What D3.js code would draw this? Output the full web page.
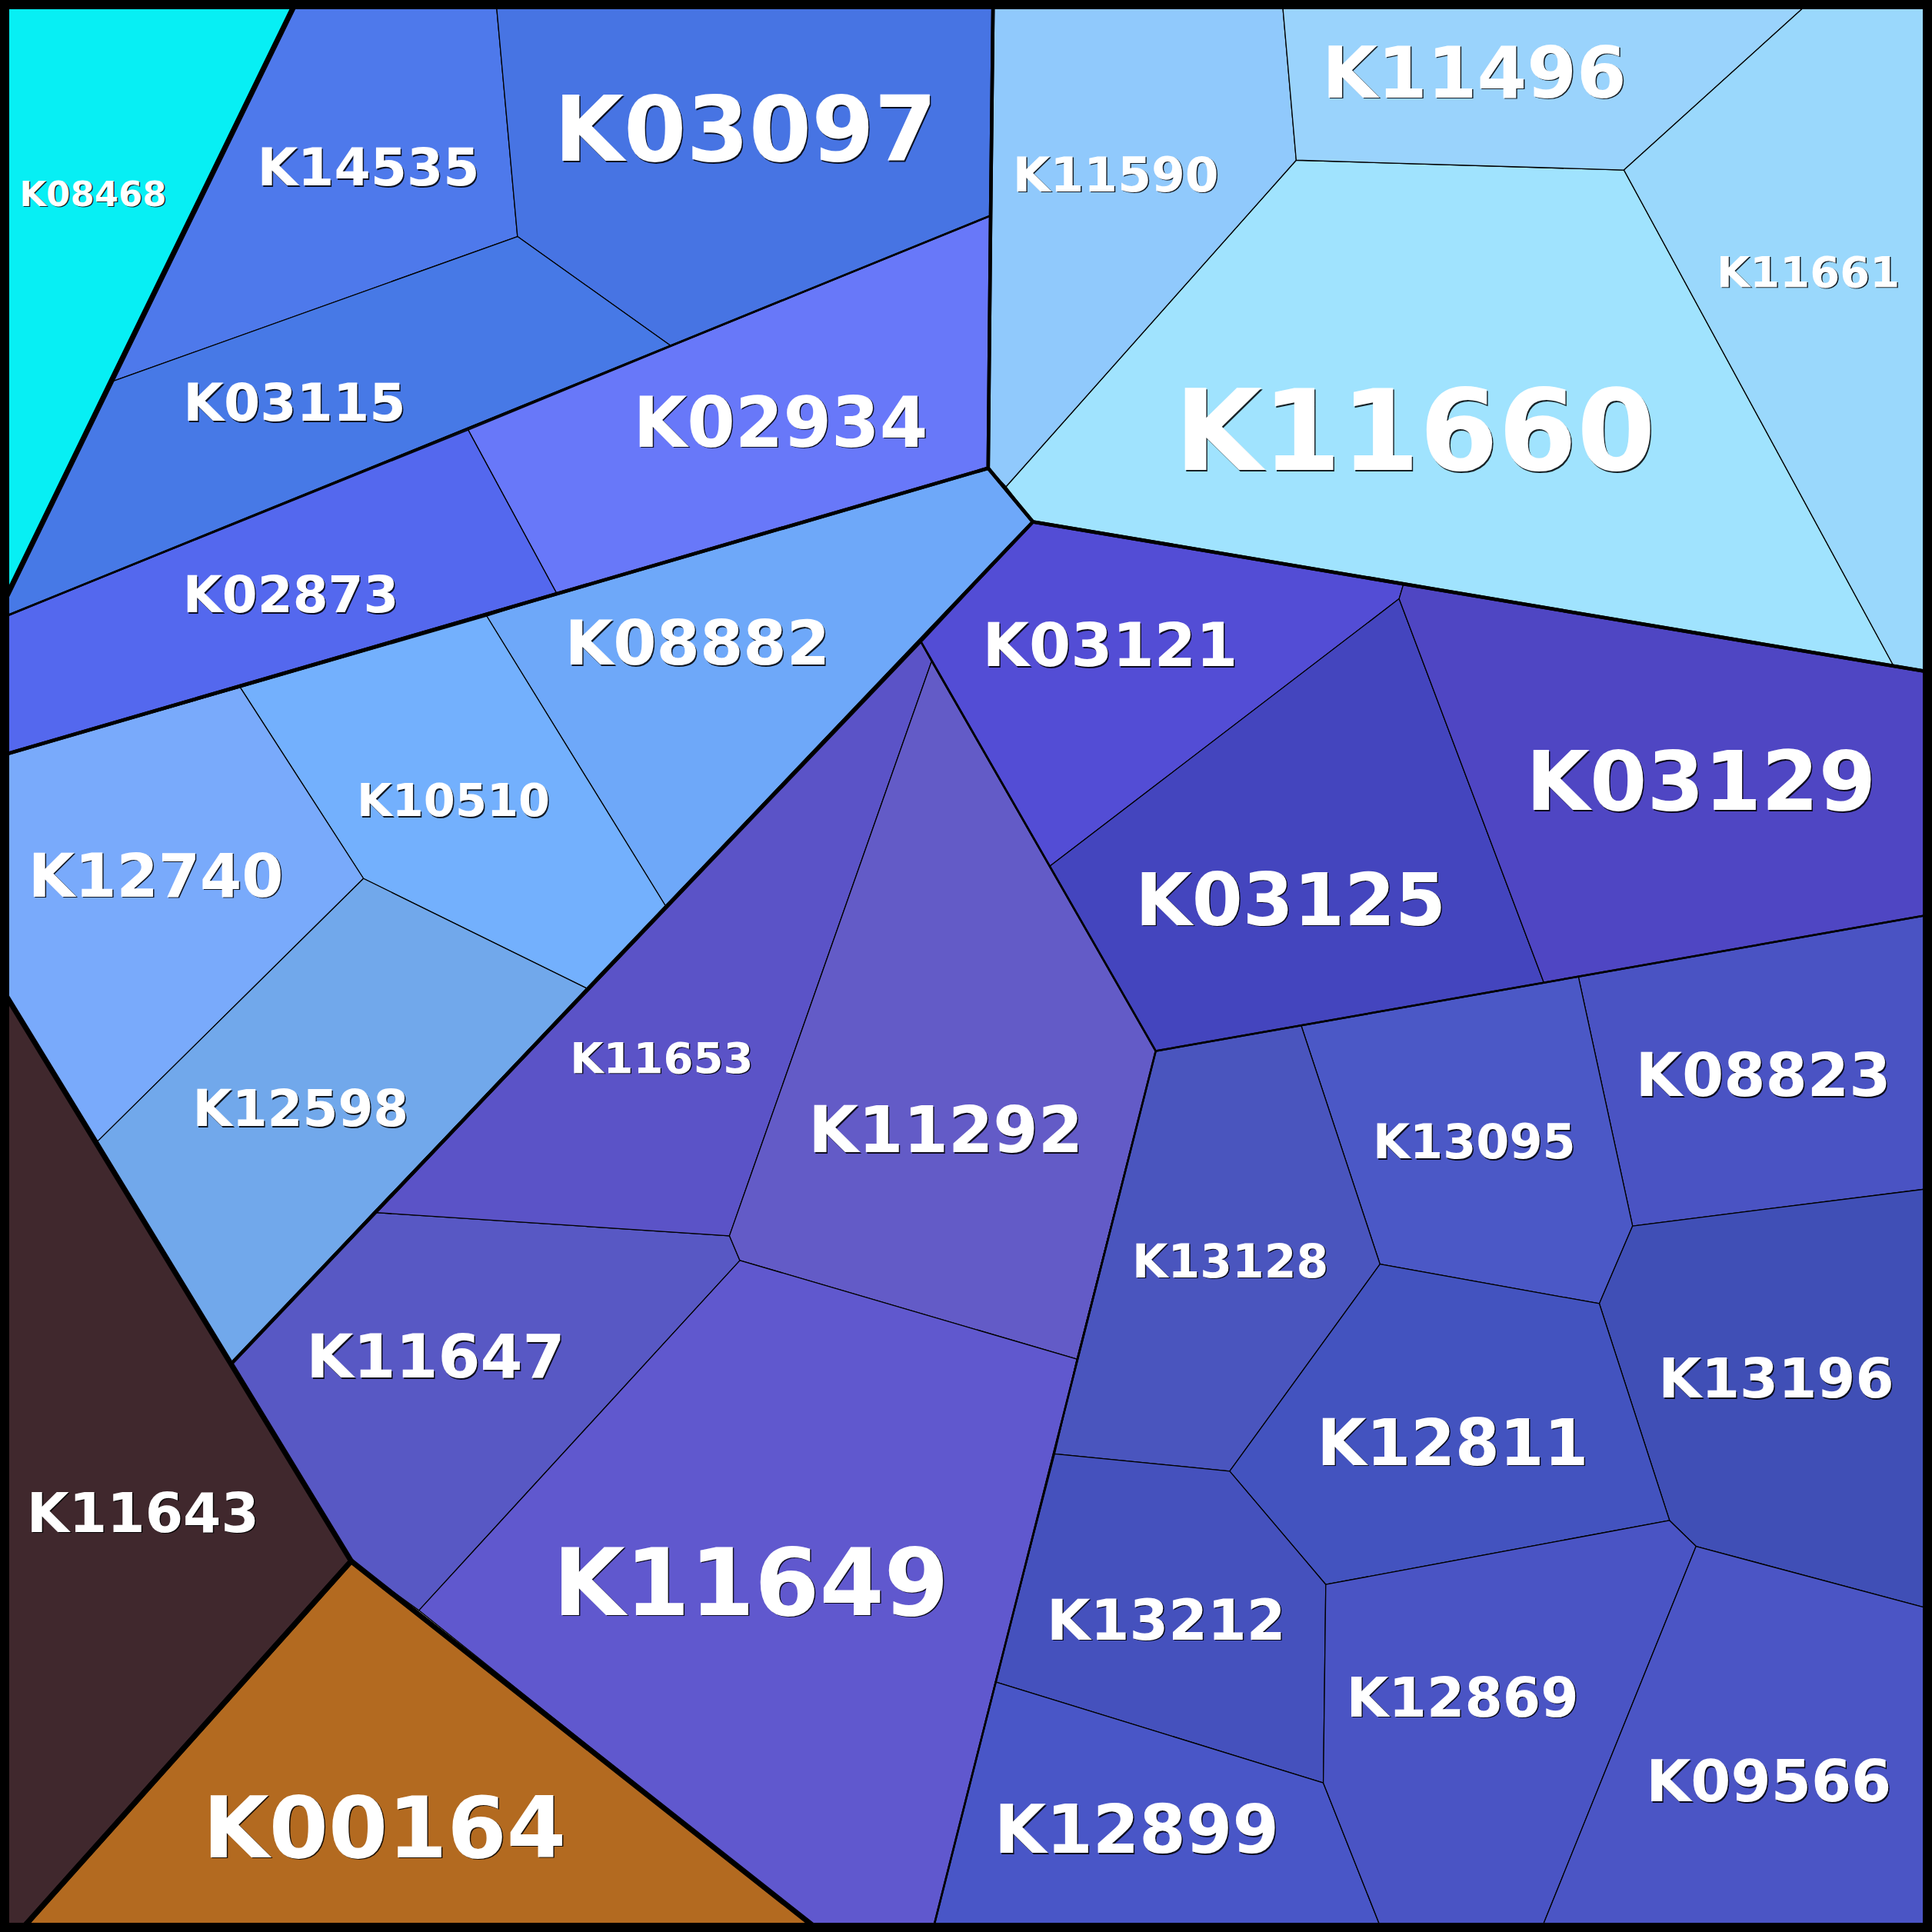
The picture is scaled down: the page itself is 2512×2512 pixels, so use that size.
<!DOCTYPE html>
<html>
<head>
<meta charset="utf-8">
<script src="https://cdn.jsdelivr.net/npm/d3@7"></script>
<style>
  body { margin: 0; background: #fff; }
  text { font-family: "DejaVu Sans", sans-serif; font-weight: bold; }
</style>
</head>
<body>
<script>
var w = 2512;
var h = 2512;

// cell names, label weights and fill colours
var names = ["K08468", "K14535", "K03097", "K03115", "K02934", "K02873", "K08882", "K10510",
    "K12740", "K12598", "K11643", "K00164", "K11647", "K11653", "K11292", "K11649",
    "K03121", "K03125", "K03129", "K11660", "K11590", "K11496", "K11661", "K08823",
    "K13095", "K13128", "K13196", "K12811", "K13212", "K12899", "K12869", "K09566"];

var weights = [45, 68, 117, 68, 90, 66, 81, 59,
    78, 66, 71, 111, 79, 56, 84, 121,
    78, 95, 107, 147, 63, 93, 56, 78,
    62, 60, 72, 83, 73, 87, 71, 75];

var colors = ["#07EFF4", "#4E79EB", "#4774E3", "#4779E6", "#6878F9", "#5468EE", "#6EA8F9", "#73B0FD",
    "#79AAFB", "#71A8EB", "#40282D", "#B36A20", "#5858C4", "#5B53C7", "#635BC7", "#6058CE",
    "#534DD5", "#4445BE", "#4F46C3", "#A0E3FE", "#90C9FC", "#9AD3FC", "#9AD8FC", "#4A53C3",
    "#4B58C6", "#4A55BE", "#404FB6", "#4353BF", "#4551BD", "#4956C7", "#4A54C4", "#4B55C5"];

// voronoi sites (label anchors), in map units 0..1568
var sites = [[75.5, 157], [299, 135], [605, 104], [239, 326], [633.5, 342], [236, 482], [566, 521], [368, 649],
    [126.5, 710], [244, 899], [116, 1227], [312, 1482], [353.5, 1100], [537, 858], [767.5, 916], [609.5, 1283],
    [901, 523], [1047.5, 729], [1380.5, 633], [1148.5, 348], [905.5, 141], [1196.5, 58], [1467.5, 220], [1431, 872],
    [1196.5, 926], [998.5, 1023], [1441.5, 1118], [1179, 1170], [946.5, 1314], [922.5, 1484], [1187, 1377], [1435.5, 1445]];

// cell corner points, in map units 0..1568
var corners = {
    c0: [0, 0], c1: [1568, 0], c2: [1568, 1568], c3: [0, 1568],
    t1: [241, 0], t2: [402.5, 0], t3: [806, 0], t4: [1040.6, 0], t5: [1470.5, 0],
    l1: [0, 495], l2: [0, 502], l3: [0, 613.5], l4: [0, 800],
    r1: [1568, 545.8], r2: [1568, 742], r3: [1568, 964.4], r4: [1568, 1306.3],
    b1: [15.5, 1568], b2: [666.3, 1568], b3: [756.7, 1568], b4: [1122, 1568], b5: [1250, 1568],
    a: [90, 310], b: [420, 192], c: [545, 281], d: [804, 175], e: [380, 349], f: [802, 380],
    g: [452, 482], h: [838.3, 423.5], i: [195, 558], j: [395, 500], k: [540, 735], m: [476, 802],
    n: [295, 713], o: [78, 927.5], p: [187.5, 1107], q: [303, 984], r: [285, 1267], s: [340, 1307],
    u: [592, 1003], v: [600.5, 1023], w: [747.5, 521], x: [756, 537], y: [938, 853], z: [874, 1103],
    A: [816.5, 395], B: [1052, 130], C: [1318, 138], D: [1537, 540.7], E: [1139, 474.3], F: [1135.5, 486],
    G: [852, 703], H: [1253, 797.5], I: [1281, 792.6], J: [1056, 832.2], K: [1325, 995], L: [1298, 1058],
    M: [1120, 1026], N: [998, 1194], O: [856, 1180], Q: [1355, 1234], R: [1376.5, 1255], S: [1076, 1286],
    T: [1074, 1447], U: [808, 1365]
};

// cell outlines as corner ids, same order as names
var cellRings = ["c0 t1 a l1", "t1 t2 b a", "t2 t3 d c b", "a b c e l2 l1", "c d f g e", "l2 e g j i l3",
    "g f h k j", "i j k m n", "l3 i n o l4", "o n m p", "l4 o p r b1 c3", "r b2 b1",
    "p q u v s r", "q w x u", "x y z v u", "v z O U b3 b2 s",
    "w h E F G", "G F H y", "E D r1 r2 I H F", "h A B C D", "t3 t4 B A f d", "t4 t5 C B",
    "t5 c1 r1 D C", "I r2 r3 K", "J I K L M", "y J M N O z", "K r3 r4 R Q L", "M L Q S N",
    "O N S T U", "U T b4 b3", "S Q R b5 b4 T", "R r4 c2 b5"];

// group outlines: [corner ids, depth]
var groupRings = [
    ["t1 t3 d l2 l1", 3], ["l2 d f l3", 3],
    ["w h r1 r2 y", 3], ["p w y b3 b2 r", 3], ["y r2 c2 b3", 3],
    ["t1 t3 d f l3 l1", 2], ["t3 c1 r1 h f d", 2], ["l3 f h p o l4", 2], ["h r1 c2 b2 r p", 2],
    ["c0 t1 a l1", 1], ["l4 o p r b1 c3", 1], ["r b2 b1", 1]
];

var lineWidth = {1: 7, 2: 4.5, 3: 2.5, 4: 1.3};

var xScale = d3.scaleLinear().domain([0, 1568]).range([0, w]);
var yScale = d3.scaleLinear().domain([0, 1568]).range([0, h]);
var fontScale = d3.scaleLinear().domain([0, 100]).range([0, 100]);

var ring = s => s.split(" ").map(id => corners[id]);
var line = d3.line().x(p => xScale(p[0])).y(p => yScale(p[1])).curve(d3.curveLinearClosed);

var cells = names.map((name, i) => ({
    name: name,
    weight: weights[i],
    color: colors[i],
    site: sites[i],
    ring: ring(cellRings[i])
}));

var svg = d3.select("body")
    .append("svg")
    .attr("width", w)
    .attr("height", h);

svg.selectAll("path.cell")
    .data(cells)
    .enter()
    .append("path")
    .attr("class", "cell")
    .attr("d", d => line(d.ring))
    .attr("fill", d => d.color)
    .attr("stroke", "#000")
    .attr("stroke-width", lineWidth[4])
    .attr("stroke-linejoin", "round");

svg.selectAll("path.group")
    .data(groupRings.slice().sort((a, b) => b[1] - a[1]))
    .enter()
    .append("path")
    .attr("class", "group")
    .attr("d", d => line(ring(d[0])))
    .attr("fill", "none")
    .attr("stroke", "#000")
    .attr("stroke-width", d => lineWidth[d[1]])
    .attr("stroke-linejoin", "round");

svg.append("rect")
    .attr("x", 0)
    .attr("y", 0)
    .attr("width", w)
    .attr("height", h)
    .attr("fill", "none")
    .attr("stroke", "#000")
    .attr("stroke-width", 24);

var labels = svg.selectAll("g.label")
    .data(cells)
    .enter()
    .append("g")
    .attr("class", "label")
    .attr("transform", d => `translate(${xScale(d.site[0])},${yScale(d.site[1]) + 0.3645 * fontScale(d.weight)})`)
    .attr("font-size", d => fontScale(d.weight))
    .attr("text-anchor", "middle");

labels.append("text")
    .attr("x", 1.5)
    .attr("y", 1.5)
    .attr("fill", "#000")
    .attr("fill-opacity", 0.85)
    .text(d => d.name);

labels.append("text")
    .attr("fill", "#fff")
    .text(d => d.name);
</script>
</body>
</html>
